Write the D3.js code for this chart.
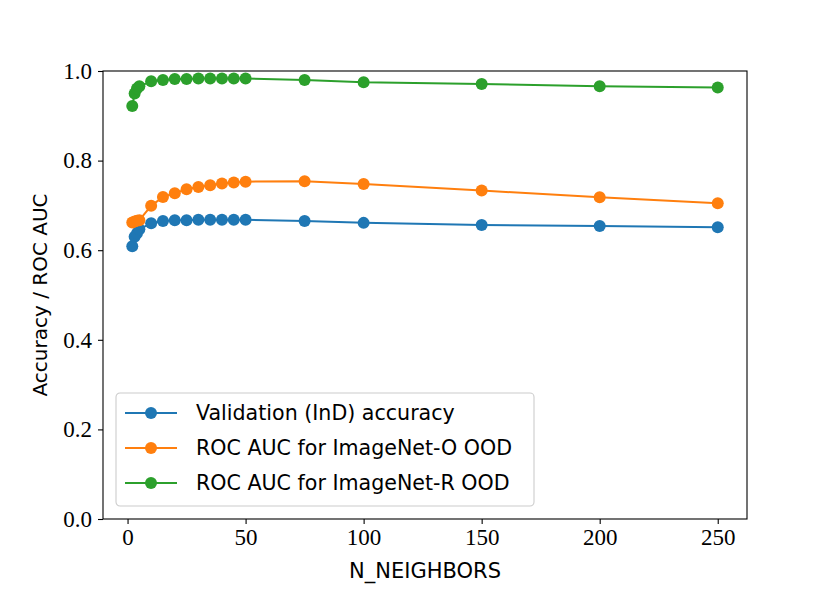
<!DOCTYPE html>
<html>
<head>
<meta charset="utf-8">
<script src="https://cdn.jsdelivr.net/npm/d3@7"></script>
<style>
  body { margin: 0; background: #fff; }
  .tick text { font-family: "Liberation Serif", serif; }
</style>
</head>
<body>
<div id="chart"></div>
<script>
// data
var neighbors = [2, 3, 4, 5, 10, 15, 20, 25, 30, 35, 40, 45, 50, 75, 100, 150, 200, 250];
var accuracy = [0.609, 0.630, 0.638, 0.647, 0.660, 0.665, 0.667, 0.667, 0.668, 0.668, 0.668, 0.668, 0.668, 0.665, 0.661, 0.656, 0.654, 0.651];
var aucO = [0.662, 0.664, 0.666, 0.667, 0.699, 0.719, 0.727, 0.736, 0.741, 0.745, 0.749, 0.751, 0.753, 0.754, 0.748, 0.733, 0.718, 0.705];
var aucR = [0.922, 0.950, 0.961, 0.966, 0.977, 0.980, 0.982, 0.982, 0.983, 0.983, 0.983, 0.983, 0.983, 0.980, 0.975, 0.971, 0.966, 0.963];
var seriesNames = ["Validation (InD) accuracy", "ROC AUC for ImageNet-O OOD", "ROC AUC for ImageNet-R OOD"];
var seriesColors = ["#1f77b4", "#ff7f0e", "#2ca02c"];
var xTicks = [0, 50, 100, 150, 200, 250];
var yTicks = [0, 0.2, 0.4, 0.6, 0.8, 1.0];

var svgWidth = 830;
var svgHeight = 593;

var margin = {
  top: 71,
  right: 83,
  bottom: 74,
  left: 103
};

var plotWidth = svgWidth - margin.left - margin.right;
var plotHeight = svgHeight - margin.top - margin.bottom;

var svg = d3.select("#chart")
  .append("svg")
  .attr("width", svgWidth)
  .attr("height", svgHeight);

var plotGroup = svg.append("g")
  .attr("transform", `translate(${margin.left}, ${margin.top})`);

// matplotlib style 5% padding around the data range
var xPad = (d3.max(neighbors) - d3.min(neighbors)) * 0.05;
var xScale = d3.scaleLinear()
  .domain([d3.min(neighbors) - xPad, d3.max(neighbors) + xPad])
  .range([0, plotWidth]);

var yScale = d3.scaleLinear()
  .domain([0, 1])
  .range([plotHeight, 0]);

var xAxis = d3.axisBottom(xScale).tickValues(xTicks).tickSize(5).tickPadding(5).tickFormat(d3.format("d"));
var yAxis = d3.axisLeft(yScale).tickValues(yTicks).tickSize(5).tickPadding(6).tickFormat(d3.format(".1f"));

var gx = plotGroup.append("g").attr("transform", `translate(0, ${plotHeight})`).call(xAxis);
var gy = plotGroup.append("g").call(yAxis);

[gx, gy].forEach(function(g) {
  g.select(".domain").remove();
  g.selectAll(".tick line").attr("stroke", "#000").attr("stroke-width", 1.1);
  g.selectAll(".tick text").attr("fill", "#000").attr("font-size", "23px");
});

var allSeries = [accuracy, aucO, aucR];

var line = d3.line()
  .x(function(d, i) { return xScale(neighbors[i]); })
  .y(function(d) { return yScale(d); });

allSeries.forEach(function(values, k) {
  plotGroup.append("path")
    .datum(values)
    .attr("d", line)
    .attr("fill", "none")
    .attr("stroke", seriesColors[k])
    .attr("stroke-width", 2);

  plotGroup.append("g")
    .selectAll("circle")
    .data(values)
    .enter()
    .append("circle")
    .attr("cx", function(d, i) { return xScale(neighbors[i]); })
    .attr("cy", function(d) { return yScale(d); })
    .attr("r", 6)
    .attr("fill", seriesColors[k]);
});

// axes frame
plotGroup.append("rect")
  .attr("width", plotWidth)
  .attr("height", plotHeight)
  .attr("fill", "none")
  .attr("stroke", "#000")
  .attr("stroke-width", 1.1);

// legend
var legend = plotGroup.append("g")
  .attr("transform", "translate(13, 322)");

legend.append("rect")
  .attr("width", 418)
  .attr("height", 113)
  .attr("rx", 4)
  .attr("fill", "#fff")
  .attr("fill-opacity", 0.8)
  .attr("stroke", "#ccc")
  .attr("stroke-width", 1.1);

seriesNames.forEach(function(name, k) {
  var row = legend.append("g").attr("transform", `translate(0, ${20 + k * 35})`);
  row.append("line")
    .attr("x1", 9).attr("x2", 61)
    .attr("stroke", seriesColors[k])
    .attr("stroke-width", 2);
  row.append("circle")
    .attr("cx", 35)
    .attr("r", 6)
    .attr("fill", seriesColors[k]);
  row.append("text")
    .attr("x", 80)
    .attr("dy", "0.35em")
    .attr("font-family", "DejaVu Sans, sans-serif")
    .attr("font-size", "20.6px")
    .attr("fill", "#000")
    .text(name);
});

// axis labels
svg.append("text")
  .attr("x", margin.left + plotWidth / 2)
  .attr("y", 578)
  .attr("text-anchor", "middle")
  .attr("font-family", "DejaVu Sans, sans-serif")
  .attr("font-size", "21px")
  .attr("fill", "#000")
  .text("N_NEIGHBORS");

svg.append("text")
  .attr("transform", `translate(47, ${margin.top + plotHeight / 2}) rotate(-90)`)
  .attr("text-anchor", "middle")
  .attr("font-family", "DejaVu Sans, sans-serif")
  .attr("font-size", "20px")
  .attr("fill", "#000")
  .text("Accuracy / ROC AUC");
</script>
</body>
</html>
